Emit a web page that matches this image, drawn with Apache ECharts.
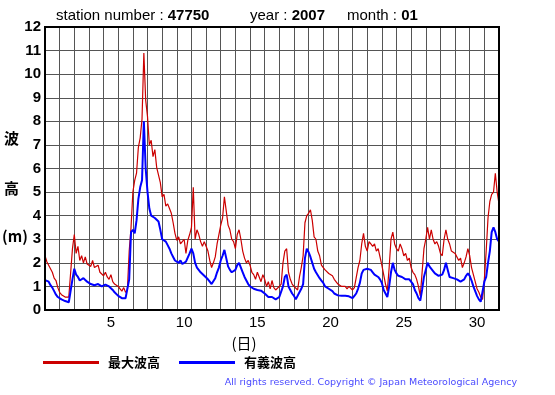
<!DOCTYPE html>
<html>
<head>
<meta charset="utf-8">
<script src="https://cdn.jsdelivr.net/npm/echarts@6/dist/echarts.min.js"></script>
<style>
  html, body { margin: 0; padding: 0; background: #fff; }
  #main { width: 555px; height: 395px; }
</style>
</head>
<body>
<div id="main"></div>
<script>
// wave heights (m), one value every 3 hours from Jan 1 00:00
const stepHours = 3;
const startDay = 1;
const dayTicks = [5, 10, 15, 20, 25, 30];
const yTicks = [0, 1, 2, 3, 4, 5, 6, 7, 8, 9, 10, 11, 12];
const seriesNames = ['最大波高', '有義波高'];

const maxWave = [
  2.3, 2.05, 2.1, 1.75, 1.6, 1.35, 1.25, 0.95,
  0.75, 0.65, 0.6, 0.55, 0.5, 0.55, 0.48, 2.6,
  3.2, 2.4, 2.7, 2.1, 2.3, 2.0, 2.25, 1.95,
  2.0, 1.85, 2.1, 1.8, 1.75, 1.9, 1.6, 1.55,
  1.45, 1.6, 1.4, 1.3, 1.5, 1.2, 1.1, 1.15,
  1.0, 0.9, 0.8, 0.95, 0.75, 0.85, 2.5, 3.5,
  5.0, 5.5, 5.8, 6.9, 7.3, 8.1, 10.9, 8.9,
  8.2, 7.0, 7.2, 6.5, 6.8, 6.05, 6.1, 5.4,
  4.8, 4.9, 4.4, 4.5, 4.3, 4.1, 3.7, 3.25,
  2.95, 3.1, 2.8, 2.9, 3.0, 2.4, 2.95, 3.2,
  3.5, 5.2, 3.0, 3.4, 3.2, 2.9, 2.7, 2.9,
  2.7, 2.5, 2.1, 1.8, 2.0, 2.25, 2.8, 3.2,
  3.6, 3.9, 4.8, 4.2, 3.6, 3.4, 3.0, 2.9,
  2.6, 3.2, 3.4, 3.0, 2.5, 2.2, 2.0, 2.1,
  1.9, 1.6, 1.5, 1.3, 1.6, 1.4, 1.2, 1.5,
  1.3, 1.0, 1.2, 0.9, 1.25, 0.95, 0.85, 0.9,
  1.0, 1.1, 2.0, 2.5, 2.6, 1.6, 1.3, 1.1,
  1.0, 0.95, 0.85, 1.4, 1.8, 2.3, 3.7, 4.0,
  4.1, 4.25, 3.8, 3.1, 3.0, 2.5, 2.3, 1.9,
  1.8, 1.7, 1.75, 1.55, 1.6, 1.45, 1.3, 1.25,
  1.1, 1.05, 1.0, 0.95, 1.0, 0.9, 1.0, 0.95,
  0.85, 0.95, 1.0, 1.8, 2.1, 2.8, 3.25, 2.7,
  2.5, 2.9, 2.8, 2.7, 2.8, 2.5, 2.6, 2.25,
  1.9, 1.5, 1.1, 0.8, 1.8, 3.0, 3.3, 2.8,
  2.6, 2.5, 2.8, 2.6, 2.3, 2.4, 2.1, 2.2,
  1.8, 1.6, 1.5, 1.3, 1.0, 0.6, 1.6, 2.6,
  3.0, 3.5, 3.0, 3.4, 3.0, 2.8, 2.9, 2.7,
  2.4, 2.3, 3.0, 3.4, 3.0, 2.8, 2.5, 2.55,
  2.4, 2.35, 2.1, 2.2, 1.8, 2.0, 2.25, 2.6,
  2.3, 1.8, 1.5, 1.2, 0.9, 0.75, 0.55, 0.45,
  1.3, 2.5, 3.9, 4.6, 4.9, 5.0, 5.8, 5.0,
  4.5
];

const sigWave = [
  1.27, 1.25, 1.2, 1.05, 0.95, 0.8, 0.65, 0.55,
  0.5, 0.45, 0.42, 0.38, 0.35, 0.33, 0.3, 1.3,
  1.75, 1.5, 1.4, 1.25, 1.3, 1.35, 1.3, 1.2,
  1.15, 1.1, 1.1, 1.05, 1.1, 1.1, 1.05, 1.0,
  1.05, 1.08, 1.0, 1.0, 0.95, 0.85, 0.75, 0.7,
  0.6, 0.55, 0.5, 0.52, 0.5, 0.5, 1.3, 3.3,
  3.4, 3.25, 3.8, 4.7, 5.2, 5.5, 8.0, 6.0,
  5.0, 4.3, 4.0, 3.95, 3.9, 3.85, 3.75, 3.4,
  3.0, 2.95, 2.9, 2.75, 2.6, 2.4, 2.25, 2.1,
  2.05, 2.0, 2.1, 1.95, 2.0, 2.05, 2.1, 2.4,
  2.6, 2.4, 2.0, 1.8, 1.8, 1.6, 1.55, 1.45,
  1.4, 1.3, 1.2, 1.1, 1.15, 1.35, 1.6, 1.8,
  2.1, 2.3, 2.55, 2.2, 1.85, 1.7, 1.6, 1.55,
  1.7, 1.9, 2.0, 1.8, 1.6, 1.4, 1.25, 1.1,
  1.0, 0.95, 0.9, 0.88, 0.85, 0.85, 0.82, 0.8,
  0.7, 0.65, 0.55, 0.5, 0.55, 0.5, 0.45, 0.5,
  0.55, 0.6, 1.0, 1.4, 1.5, 1.0, 0.85, 0.7,
  0.6, 0.45, 0.4, 0.75, 0.9, 1.1, 2.2, 2.6,
  2.45, 2.25, 2.0, 1.75, 1.6, 1.55, 1.35, 1.25,
  1.15, 1.0, 0.95, 0.9, 0.85, 0.8, 0.7, 0.65,
  0.62, 0.6, 0.6, 0.55, 0.6, 0.55, 0.58, 0.55,
  0.5, 0.6, 0.7, 0.9, 1.15, 1.55, 1.7, 1.7,
  1.75, 1.8, 1.7, 1.6, 1.5, 1.45, 1.4, 1.3,
  1.15, 0.85, 0.7, 0.55, 1.0, 1.6, 2.0, 1.7,
  1.55, 1.45, 1.4, 1.4, 1.35, 1.3, 1.27, 1.3,
  1.25, 1.1, 0.85, 0.7, 0.5, 0.4, 0.85, 1.4,
  1.7, 2.0, 1.85, 1.8, 1.65, 1.55, 1.5, 1.45,
  1.4, 1.5, 1.7, 2.0, 1.7, 1.4, 1.4, 1.35,
  1.35, 1.3, 1.25, 1.2, 1.2, 1.3, 1.45, 1.55,
  1.45, 1.25, 1.0, 0.8, 0.6, 0.45, 0.35, 0.3,
  1.2, 1.4, 2.0, 2.5, 3.3, 3.5, 3.3, 3.0,
  2.9
];

function toPoints(arr) {
  return arr.map((v, i) => [startDay + i * stepHours / 24, v]);
}

const chart = echarts.init(document.getElementById('main'));
const fontEn = '"Liberation Sans", Arial, sans-serif';
const fontJa = '"Noto Sans CJK JP", sans-serif';

chart.setOption({
  backgroundColor: '#fff',
  animation: false,
  grid: {
    left: 45, top: 27, right: 56, bottom: 85,
    show: true, borderColor: '#000', borderWidth: 2, backgroundColor: 'transparent', z: 5
  },
  xAxis: [
    {
      type: 'value', min: 1, max: 32, interval: 1,
      axisLine: { show: false }, axisTick: { show: false }, axisLabel: { show: false },
      splitLine: { show: true, lineStyle: { color: '#555', width: 1 } }
    },
    {
      type: 'value', min: 1, max: 32, interval: 0.5, position: 'bottom',
      axisLine: { show: false }, axisTick: { show: false }, splitLine: { show: false },
      axisLabel: {
        margin: 5, color: '#000', fontSize: 15, fontFamily: fontEn,
        formatter: v => dayTicks.indexOf(v - 0.5) >= 0 ? String(v - 0.5) : ''
      },
      name: '(日)', nameLocation: 'middle', nameGap: 26,
      nameTextStyle: { color: '#000', fontSize: 15, fontFamily: fontJa, padding: [0, 56, 0, 0] }
    }
  ],
  yAxis: {
    type: 'value', min: yTicks[0], max: yTicks[yTicks.length - 1], interval: 1,
    axisLine: { show: false }, axisTick: { show: false },
    axisLabel: { margin: 4, color: '#000', fontSize: 15, fontWeight: 'bold', fontFamily: fontEn },
    splitLine: { show: true, lineStyle: { color: '#555', width: 1 } }
  },
  legend: {
    left: 43, top: 356, padding: 0, icon: 'rect', itemWidth: 56, itemHeight: 3, itemGap: 19,
    textStyle: { color: '#000', fontSize: 13, fontWeight: 'bold', fontFamily: fontJa, padding: [0, 0, 0, 4] },
    data: seriesNames
  },
  graphic: [
    {
      type: 'text', left: 56, top: 8,
      style: {
        text: '{a|station number : }{b|47750}',
        rich: {
          a: { fontSize: 15, fontFamily: fontEn, fill: '#000' },
          b: { fontSize: 15, fontFamily: fontEn, fontWeight: 'bold', fill: '#000' }
        }
      }
    },
    {
      type: 'text', left: 250, top: 8,
      style: {
        text: '{a|year : }{b|2007}',
        rich: {
          a: { fontSize: 15, fontFamily: fontEn, fill: '#000' },
          b: { fontSize: 15, fontFamily: fontEn, fontWeight: 'bold', fill: '#000' }
        }
      }
    },
    {
      type: 'text', left: 347, top: 8,
      style: {
        text: '{a|month : }{b|01}',
        rich: {
          a: { fontSize: 15, fontFamily: fontEn, fill: '#000' },
          b: { fontSize: 15, fontFamily: fontEn, fontWeight: 'bold', fill: '#000' }
        }
      }
    },
    { type: 'text', left: 4, top: 131, style: { text: '波', fontSize: 15, fontWeight: 'bold', fontFamily: fontJa, fill: '#000' } },
    { type: 'text', left: 4, top: 181, style: { text: '高', fontSize: 15, fontWeight: 'bold', fontFamily: fontJa, fill: '#000' } },
    { type: 'text', left: 2, top: 229, style: { text: '(m)', fontSize: 15, fontWeight: 'bold', fontFamily: fontJa, fill: '#000' } },
    {
      type: 'text', right: 38, top: 378,
      style: { text: 'All rights reserved. Copyright © Japan Meteorological Agency', fontSize: 9.5, fontFamily: '"DejaVu Sans", sans-serif', fill: '#4a4aff' }
    }
  ],
  series: [
    {
      name: seriesNames[0], type: 'line', xAxisIndex: 0, showSymbol: false, symbol: 'none',
      lineStyle: { color: '#cc0000', width: 1.2 }, itemStyle: { color: '#cc0000' },
      data: toPoints(maxWave)
    },
    {
      name: seriesNames[1], type: 'line', xAxisIndex: 0, showSymbol: false, symbol: 'none',
      lineStyle: { color: '#0000ff', width: 2 }, itemStyle: { color: '#0000ff' },
      data: toPoints(sigWave)
    }
  ]
});
</script>
</body>
</html>
